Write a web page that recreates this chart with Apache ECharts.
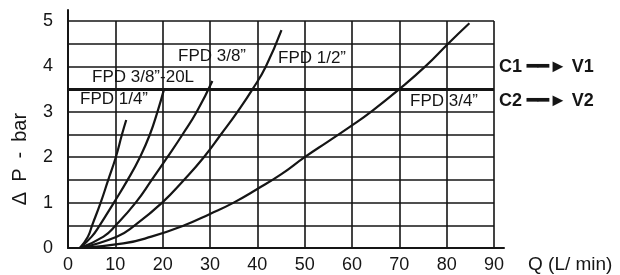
<!DOCTYPE html>
<html>
<head>
<meta charset="utf-8">
<script src="https://cdn.jsdelivr.net/npm/echarts@6/dist/echarts.min.js"></script>
<style>
  html, body { margin: 0; background: #fff; }
  #chart { width: 620px; height: 275px; }
</style>
</head>
<body>
<div id="chart"></div>
<script>
// flow Q (L/min) vs pressure drop (bar)
var q14 = [2.5, 4.2, 5.1, 6.9, 8.5, 10.1, 11.4, 12.3];
var p14 = [0, 0.25, 0.5, 1, 1.5, 2, 2.5, 2.82];

var q38L = [2.5, 5, 6.7, 9.7, 12.6, 15.2, 17.3, 18.9, 20.3];
var p38L = [0, 0.25, 0.5, 1, 1.5, 2, 2.5, 3, 3.5];

var q38 = [2.5, 7.5, 10.1, 14.3, 17.7, 21, 24.2, 27.2, 30.5];
var p38 = [0, 0.25, 0.5, 1, 1.5, 2, 2.5, 3, 3.68];

var q12 = [2.5, 10.3, 14.1, 19.9, 24.5, 28.7, 32.3, 35.8, 39.0, 41.8, 45.1];
var p12 = [0, 0.25, 0.5, 1, 1.5, 2, 2.5, 3, 3.5, 4, 4.8];

var q34 = [2.5, 11.7, 17.6, 24.6, 30, 35, 40, 45, 50, 55, 60, 64, 70, 75.5, 80.3, 84.8];
var p34 = [0, 0.1, 0.25, 0.5, 0.75, 1, 1.3, 1.62, 2, 2.35, 2.7, 3, 3.5, 4, 4.5, 4.95];

var xTicks = [0, 10, 20, 30, 40, 50, 60, 70, 80, 90];
var yLabels = [0, 1, 2, 3, 4, 5];
var limitLine = 3.5;

var curves = [
  { name: 'FPD 1/4”', q: q14, p: p14 },
  { name: 'FPD 3/8”-20L', q: q38L, p: p38L },
  { name: 'FPD 3/8”', q: q38, p: p38 },
  { name: 'FPD 1/2”', q: q12, p: p12 },
  { name: 'FPD 3/4”', q: q34, p: p34 }
];

var ink = '#151515';
var font = '"Liberation Sans", Arial, sans-serif';

function pairs(q, p) {
  return q.map(function (v, i) { return [v, p[i]]; });
}

var series = curves.map(function (c) {
  return {
    name: c.name,
    type: 'line',
    data: pairs(c.q, c.p),
    showSymbol: false,
    smooth: 0.5,
    lineStyle: { color: ink, width: 2.2 },
    z: 5
  };
});
series[0].markLine = {
  silent: true,
  symbol: 'none',
  label: { show: false },
  lineStyle: { color: ink, width: 3, type: 'solid' },
  data: [{ yAxis: limitLine }]
};

function note(text, x, y, size, bold) {
  return {
    type: 'text',
    style: {
      text: text, x: x, y: y,
      font: (bold ? 'bold ' : '') + size + 'px ' + font,
      fill: ink, textAlign: 'left', textVerticalAlign: 'middle'
    },
    z: 10
  };
}

var dom = document.getElementById('chart');
var myChart = echarts.init(dom, null, { renderer: 'canvas' });

var option = {
  animation: false,
  backgroundColor: '#fff',
  grid: [
    { left: 68, right: 126, top: 21, bottom: 27 },
    { left: 68, right: 116, top: 10, bottom: 27 }
  ],
  xAxis: [{
    type: 'value', gridIndex: 0, min: 0, max: 90, interval: 10,
    axisLine: { show: false }, axisTick: { show: false },
    axisLabel: {
      margin: 8, color: ink, fontSize: 18, fontFamily: font,
      formatter: function (v) { return xTicks.indexOf(v) >= 0 ? String(v) : ''; }
    },
    splitLine: { show: true, lineStyle: { color: ink, width: 1.6 } }
  }, {
    type: 'value', gridIndex: 1, min: 0, max: 1,
    axisLine: { show: true, lineStyle: { color: ink, width: 2 } },
    axisTick: { show: false }, axisLabel: { show: false }, splitLine: { show: false }
  }],
  yAxis: [{
    type: 'value', gridIndex: 0, min: 0, max: 5, interval: 0.5,
    axisLine: { show: false }, axisTick: { show: false },
    axisLabel: {
      margin: 15, color: ink, fontSize: 18, fontFamily: font,
      formatter: function (v) { return yLabels.indexOf(v) >= 0 ? String(v) : ''; }
    },
    splitLine: { show: true, lineStyle: { color: ink, width: 1.6 } }
  }, {
    type: 'value', gridIndex: 1, min: 0, max: 1,
    axisLine: { show: true, lineStyle: { color: ink, width: 2 } },
    axisTick: { show: false }, axisLabel: { show: false }, splitLine: { show: false }
  }],
  series: series,
  graphic: [
    note(curves[0].name, 80, 99, 17),
    note(curves[1].name, 92, 77, 17),
    note(curves[2].name, 178, 56, 17),
    note(curves[3].name, 278, 58, 17),
    note(curves[4].name, 410, 101, 17),
    note('C1 ━━► V1', 499, 67, 18, true),
    note('C2 ━━► V2', 499, 101, 18, true),
    note('Q (L/ min)', 528, 265, 19),
    {
      type: 'text', x: 20, y: 159, rotation: Math.PI / 2,
      style: {
        text: 'Δ\u2002P\u2002-\u2002bar', font: '20px ' + font, fill: ink,
        textAlign: 'center', textVerticalAlign: 'middle'
      }
    }
  ]
};

if (option && typeof option === 'object') {
  myChart.setOption(option);
}

window.addEventListener('resize', myChart.resize);
</script>
</body>
</html>
